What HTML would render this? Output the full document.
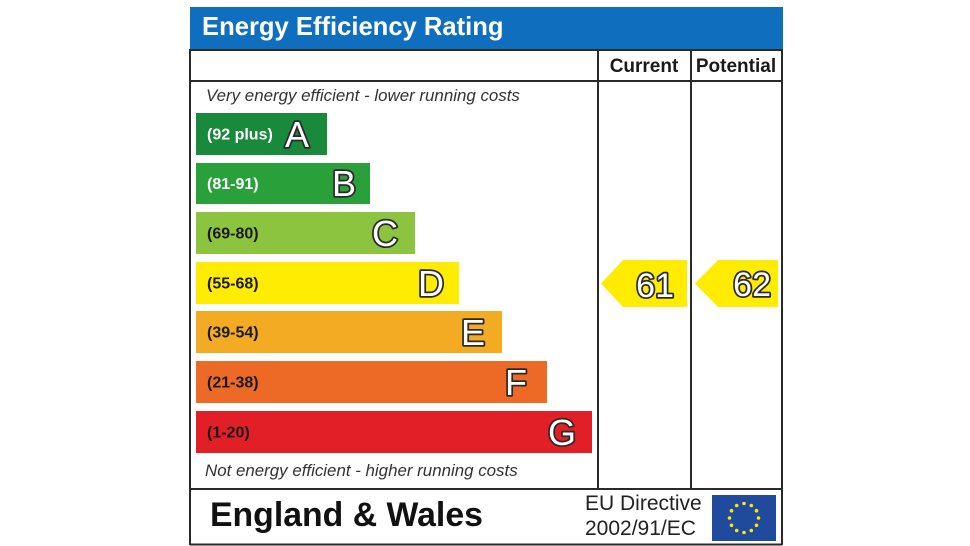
<!DOCTYPE html>
<html>
<head>
<meta charset="utf-8">
<style>
  html,body{margin:0;padding:0;background:#fff;}
  svg{display:block;}
  text{font-family:"Liberation Sans", Arial, sans-serif;}
</style>
</head>
<body>
<svg width="970" height="546" viewBox="0 0 970 546" xmlns="http://www.w3.org/2000/svg">
  <rect x="0" y="0" width="970" height="546" fill="#fff"/>
  <!-- header -->
  <rect x="190" y="7" width="593" height="43" fill="#0f6fbe"/>
  <text x="202" y="35" font-size="25.6" font-weight="bold" fill="#fff">Energy Efficiency Rating</text>

  <!-- frame lines -->
  <g stroke="#2a2a2a" stroke-width="2" fill="none">
    <line x1="190" y1="49" x2="190" y2="545"/>
    <line x1="782" y1="49" x2="782" y2="545"/>
    <line x1="190" y1="50" x2="782" y2="50"/>
    <line x1="190" y1="81" x2="782" y2="81"/>
    <line x1="190" y1="489" x2="782" y2="489"/>
    <line x1="190" y1="544.5" x2="782" y2="544.5"/>
    <line x1="598" y1="50" x2="598" y2="489"/>
    <line x1="691" y1="50" x2="691" y2="489"/>
  </g>

  <text x="644" y="72" font-size="19" font-weight="bold" fill="#1a1a1a" text-anchor="middle">Current</text>
  <text x="736" y="72" font-size="19" font-weight="bold" fill="#1a1a1a" text-anchor="middle">Potential</text>

  <text x="206" y="101" font-size="16.9" font-style="italic" fill="#333">Very energy efficient - lower running costs</text>

  <!-- bars -->
  <rect x="196" y="113" width="131" height="42" fill="#19893b"/>
  <rect x="196" y="163" width="174" height="41" fill="#2aa03b"/>
  <rect x="196" y="212" width="219" height="42" fill="#8cc43f"/>
  <rect x="196" y="262" width="263" height="42" fill="#ffec00"/>
  <rect x="196" y="311" width="306" height="42" fill="#f4ab24"/>
  <rect x="196" y="361" width="351" height="42" fill="#ec6a25"/>
  <rect x="196" y="411" width="396" height="42" fill="#e21e26"/>

  <g font-size="16" font-weight="bold">
    <text x="207" y="139.5" fill="#fff">(92 plus)</text>
    <text x="207" y="189" fill="#fff">(81-91)</text>
    <text x="207" y="238.5" fill="#1a1a1a">(69-80)</text>
    <text x="207" y="288.5" fill="#1a1a1a">(55-68)</text>
    <text x="207" y="337.5" fill="#1a1a1a">(39-54)</text>
    <text x="207" y="387.5" fill="#1a1a1a">(21-38)</text>
    <text x="207" y="437.5" fill="#1a1a1a">(1-20)</text>
  </g>

  <g font-size="36" fill="#fff" stroke="#2a2a2a" stroke-width="3.5" paint-order="stroke" stroke-linejoin="round" text-anchor="end">
    <text x="309" y="147">A</text>
    <text x="356" y="196">B</text>
    <text x="398" y="246">C</text>
    <text x="444" y="296">D</text>
    <text x="485" y="345">E</text>
    <text x="527" y="395">F</text>
    <text x="576" y="445">G</text>
  </g>

  <text x="205" y="476" font-size="16.9" font-style="italic" fill="#333">Not energy efficient - higher running costs</text>

  <!-- arrows -->
  <polygon points="601,283.5 623,260 687,260 687,307 623,307" fill="#ffec00"/>
  <polygon points="695,283.5 718,260 778,260 778,307 718,307" fill="#ffec00"/>
  <g font-size="34" fill="#fff" stroke="#2a2a2a" stroke-width="3.5" paint-order="stroke" stroke-linejoin="round" text-anchor="end">
    <text x="674" y="297">61</text>
    <text x="771" y="296">62</text>
  </g>

  <!-- footer -->
  <text x="210" y="526" font-size="33.8" font-weight="bold" fill="#111">England &amp; Wales</text>
  <text x="585" y="510" font-size="21" fill="#222">EU Directive</text>
  <text x="585" y="535" font-size="21" fill="#222">2002/91/EC</text>

  <rect x="712" y="495" width="64" height="46" fill="#1f4a9e"/>
  <g fill="#ffe500">
    <circle cx="744" cy="503.5" r="1.8"/>
    <circle cx="751.3" cy="505.5" r="1.8"/>
    <circle cx="756.5" cy="510.7" r="1.8"/>
    <circle cx="758.5" cy="518" r="1.8"/>
    <circle cx="756.5" cy="525.3" r="1.8"/>
    <circle cx="751.3" cy="530.5" r="1.8"/>
    <circle cx="744" cy="532.5" r="1.8"/>
    <circle cx="736.7" cy="530.5" r="1.8"/>
    <circle cx="731.5" cy="525.3" r="1.8"/>
    <circle cx="729.5" cy="518" r="1.8"/>
    <circle cx="731.5" cy="510.7" r="1.8"/>
    <circle cx="736.7" cy="505.5" r="1.8"/>
  </g>
</svg>
</body>
</html>
